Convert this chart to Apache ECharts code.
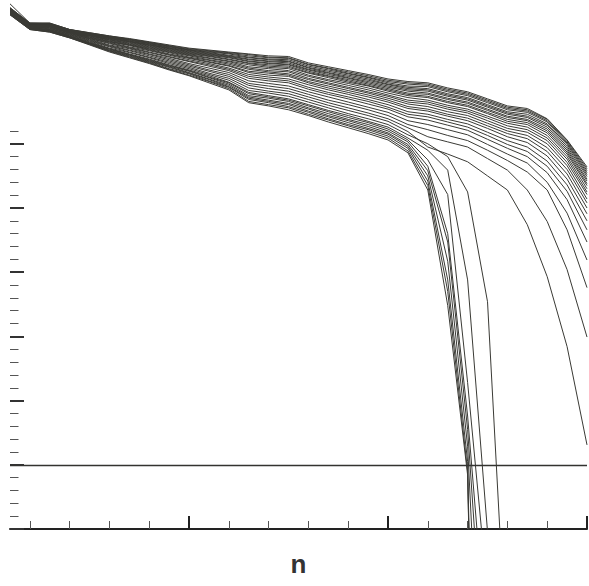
<!DOCTYPE html>
<html>
<head>
<meta charset="utf-8">
<script src="https://cdn.jsdelivr.net/npm/echarts@6/dist/echarts.min.js"></script>
<style>
html,body{margin:0;padding:0;background:#fff;}
#chart{width:589px;height:586px;}
</style>
</head>
<body>
<div id="chart"></div>
<script>
// n values
const nValues = [1,2,3,4,5,6,7,8,9,10,11,12,13,14,15,16,17,18,19,20,21,22,23,24,25,26,27,28,29,30];
// tick positions
const xMajorTicks = [10,20,30];
const xMinorTicks = [2,4,6,8,12,14,16,18,22,24,26,28];
const yMajorTicks = [-10,0,10,20,30,40,50];
const yMinorTicks = [-8,-6,-4,-2,2,4,6,8,12,14,16,18,22,24,26,28,32,34,36,38,42,44,46,48,52];
const refLine = 0;

// curves (bottom to top)
const steep1 = [70.1,67.8,67.4,66.5,65.4,64.3,63.4,62.5,61.5,60.6,59.5,58.4,56.4,55.9,55.3,54.4,53.4,52.5,51.6,50.6,48.6,42.8,24.8,-1.6,-150,null,null,null,null,null];
const steep2 = [70.1,67.8,67.4,66.5,65.5,64.4,63.5,62.6,61.6,60.7,59.7,58.6,56.6,56.1,55.6,54.6,53.7,52.8,51.9,50.9,48.9,43.5,27.0,-1.0,-150,null,null,null,null,null];
const steep3 = [70.2,67.9,67.5,66.6,65.5,64.5,63.6,62.7,61.7,60.9,59.8,58.8,56.9,56.4,55.8,54.9,53.9,53.0,52.2,51.2,49.3,44.2,28.8,0.5,-150,null,null,null,null,null];
const steep4 = [70.2,67.9,67.5,66.6,65.6,64.5,63.7,62.8,61.9,61.0,60.0,58.9,57.1,56.6,56.1,55.1,54.2,53.3,52.4,51.5,49.6,45.0,31.7,2.9,-60,null,null,null,null,null];
const steep5 = [70.2,67.9,67.6,66.7,65.6,64.6,63.8,62.9,62.0,61.1,60.1,59.1,57.3,56.8,56.3,55.4,54.4,53.6,52.7,51.7,49.9,45.8,34.7,5.5,-40,null,null,null,null,null];
const steep6 = [70.3,68.0,67.6,66.7,65.7,64.7,63.9,63.0,62.1,61.3,60.3,59.3,57.5,57.1,56.6,55.6,54.7,53.8,53.0,52.0,50.3,46.5,36.0,7.6,-30,null,null,null,null,null];
const steep7 = [70.3,68.0,67.7,66.7,65.7,64.8,63.9,63.1,62.2,61.4,60.4,59.5,57.8,57.3,56.8,55.9,55.0,54.1,53.3,52.3,50.6,47.5,42.1,12.8,-20,null,null,null,null,null];
const steep8 = [70.3,68.0,67.7,66.8,65.8,64.8,64.0,63.2,62.3,61.5,60.6,59.6,58.0,57.5,57.0,56.1,55.2,54.4,53.5,52.6,50.9,49.0,45.9,28.8,-10.4,-150,null,null,null,null];
const steep9 = [70.4,68.1,67.8,66.8,65.9,64.9,64.2,63.4,62.5,61.7,60.8,59.9,58.3,57.9,57.4,56.5,55.6,54.7,53.9,53.0,51.4,50.0,48.0,42.5,25.4,-32,null,null,null,null];
const curve01 = [70.4,68.1,67.8,66.9,66.0,65.1,64.3,63.5,62.7,61.9,61.0,60.2,58.7,58.2,57.8,56.9,56.0,55.2,54.4,53.5,51.9,49.5,48.4,47.2,45.0,42.8,37.4,29.3,18.4,3.1];
const curve02 = [70.5,68.2,67.9,67.0,66.1,65.2,64.5,63.7,62.9,62.1,61.3,60.5,59.1,58.6,58.2,57.3,56.4,55.6,54.8,53.9,52.5,51.1,50.3,49.5,47.7,45.9,42.8,37.9,30.4,19.9];
const curve03 = [70.5,68.2,68.0,67.0,66.2,65.3,64.6,63.9,63.1,62.3,61.5,60.8,59.4,59.0,58.6,57.7,56.8,56.1,55.3,54.4,53.0,52.2,51.3,50.5,49.0,47.4,45.6,42.8,36.6,27.6];
const curve04 = [70.6,68.3,68.0,67.1,66.3,65.4,64.8,64.0,63.3,62.5,61.8,61.1,59.8,59.4,59.0,58.1,57.3,56.5,55.7,54.9,53.6,53.0,52.2,51.4,49.9,48.4,47.0,44.0,39.2,31.9];
const curve05 = [70.7,68.3,68.1,67.2,66.4,65.6,64.9,64.2,63.5,62.8,62.1,61.4,60.2,59.8,59.5,58.5,57.7,57.0,56.2,55.4,54.2,53.7,52.9,52.1,50.7,49.3,48.0,45.5,41.3,34.7];
const curve06 = [70.7,68.3,68.2,67.2,66.4,65.7,65.0,64.3,63.6,62.9,62.3,61.6,60.5,60.1,59.8,58.8,58.0,57.3,56.6,55.7,54.6,54.2,53.4,52.6,51.3,49.9,48.8,46.5,42.6,36.6];
const curve07 = [70.7,68.4,68.2,67.3,66.5,65.8,65.1,64.5,63.8,63.1,62.5,61.8,60.8,60.4,60.1,59.2,58.4,57.7,56.9,56.1,55.0,54.6,53.8,53.1,51.8,50.5,49.5,47.3,43.6,38.0];
const curve08 = [70.8,68.4,68.3,67.3,66.6,65.9,65.3,64.6,63.9,63.3,62.7,62.1,61.1,60.7,60.5,59.5,58.7,58.0,57.3,56.5,55.5,55.1,54.3,53.6,52.4,51.1,50.2,48.1,44.5,39.1];
const curve09 = [70.8,68.5,68.3,67.4,66.6,65.9,65.4,64.7,64.0,63.4,62.8,62.2,61.3,61.0,60.7,59.7,59.0,58.3,57.6,56.8,55.8,55.4,54.6,54.0,52.8,51.6,50.8,48.8,45.3,40.0];
const curve10 = [70.8,68.5,68.4,67.4,66.7,66.0,65.4,64.8,64.2,63.5,63.0,62.4,61.6,61.2,60.9,60.0,59.3,58.6,57.9,57.1,56.2,55.8,55.0,54.4,53.2,52.0,51.3,49.4,46.0,40.8];
const curve11 = [70.9,68.5,68.4,67.4,66.8,66.1,65.5,64.9,64.3,63.7,63.1,62.6,61.8,61.4,61.2,60.2,59.5,58.8,58.1,57.4,56.5,56.2,55.4,54.8,53.6,52.4,51.8,50.0,46.6,41.4];
const curve12 = [70.9,68.5,68.4,67.5,66.8,66.2,65.6,65.0,64.4,63.8,63.3,62.8,62.0,61.7,61.4,60.5,59.8,59.1,58.4,57.6,56.8,56.5,55.7,55.1,54.0,52.8,52.2,50.5,47.1,42.1];
const curve13 = [70.9,68.6,68.5,67.5,66.9,66.2,65.7,65.1,64.5,63.9,63.4,62.9,62.3,61.9,61.7,60.7,60.0,59.4,58.7,57.9,57.2,56.8,56.0,55.4,54.3,53.2,52.6,50.9,47.6,42.5];
const curve14 = [71.0,68.6,68.5,67.5,66.9,66.3,65.8,65.2,64.6,64.0,63.6,63.1,62.5,62.1,61.9,61.0,60.3,59.6,59.0,58.2,57.5,57.2,56.4,55.8,54.7,53.5,53.0,51.3,48.0,43.0];
const curve15 = [71.0,68.6,68.6,67.6,67.0,66.4,65.9,65.3,64.7,64.1,63.7,63.2,62.6,62.3,62.1,61.1,60.5,59.8,59.1,58.4,57.7,57.4,56.6,56.0,54.9,53.8,53.3,51.7,48.4,43.5];
const curve16 = [71.0,68.6,68.6,67.6,67.0,66.4,65.9,65.4,64.8,64.2,63.8,63.4,62.8,62.5,62.3,61.3,60.6,60.0,59.3,58.6,57.9,57.7,56.9,56.3,55.2,54.1,53.6,52.0,48.7,43.8];
const curve17 = [71.0,68.7,68.6,67.6,67.0,66.5,66.0,65.4,64.9,64.3,63.9,63.5,62.9,62.6,62.4,61.5,60.8,60.2,59.5,58.8,58.2,57.9,57.1,56.5,55.4,54.3,53.8,52.3,49.0,44.2];
const curve18 = [71.1,68.7,68.6,67.6,67.1,66.5,66.0,65.5,64.9,64.4,64.0,63.6,63.1,62.8,62.6,61.6,61.0,60.3,59.7,59.0,58.4,58.2,57.4,56.8,55.7,54.6,54.1,52.6,49.3,44.5];
const curve19 = [71.1,68.7,68.7,67.7,67.1,66.6,66.1,65.6,65.0,64.5,64.1,63.7,63.2,62.9,62.8,61.8,61.1,60.5,59.9,59.2,58.6,58.4,57.6,57.0,55.9,54.8,54.3,52.9,49.6,44.9];
const curve20 = [71.1,68.7,68.7,67.7,67.2,66.6,66.2,65.6,65.1,64.6,64.2,63.8,63.4,63.1,62.9,61.9,61.3,60.7,60.1,59.3,58.8,58.6,57.8,57.2,56.1,55.0,54.6,53.1,49.9,45.2];
const curve21 = [71.1,68.7,68.7,67.7,67.2,66.7,66.2,65.7,65.2,64.6,64.3,64.0,63.5,63.2,63.1,62.1,61.5,60.9,60.3,59.5,59.0,58.9,58.1,57.5,56.4,55.3,54.9,53.4,50.1,45.5];
const curve22 = [71.2,68.8,68.7,67.8,67.2,66.7,66.3,65.8,65.2,64.7,64.4,64.1,63.7,63.4,63.3,62.3,61.7,61.0,60.4,59.7,59.3,59.1,58.3,57.7,56.6,55.5,55.1,53.6,50.3,45.8];
const curve23 = [71.2,68.8,68.8,67.8,67.3,66.8,66.3,65.8,65.3,64.8,64.5,64.2,63.9,63.5,63.4,62.4,61.8,61.2,60.6,59.9,59.5,59.3,58.5,57.9,56.8,55.7,55.3,53.8,50.5,46.1];
const curve24 = [71.8,68.8,68.8,67.8,67.3,66.8,66.4,65.9,65.4,64.9,64.6,64.3,64.0,63.7,63.6,62.6,62.0,61.4,60.8,60.1,59.7,59.5,58.7,58.1,57.0,55.9,55.5,53.9,50.6,46.4];

const allCurves = [steep1,steep2,steep3,steep4,steep5,steep6,steep7,steep8,steep9,
  curve01,curve02,curve03,curve04,curve05,curve06,curve07,curve08,curve09,curve10,curve11,curve12,
  curve13,curve14,curve15,curve16,curve17,curve18,curve19,curve20,curve21,curve22,curve23,curve24];

const chart = echarts.init(document.getElementById('chart'), null, {renderer: 'svg', width: 589, height: 586});

const series = allCurves.map(function (c, idx) {
  const s = {
    type: 'line',
    xAxisIndex: 0,
    yAxisIndex: 0,
    data: nValues.map(function (n, i) { return [n, c[i]]; }),
    showSymbol: false,
    symbol: 'none',
    connectNulls: false,
    clip: true,
    lineStyle: { color: '#3a3a35', width: 1 },
    emphasis: { disabled: true },
    silent: true,
    z: 2
  };
  if (idx === 0) {
    s.markLine = {
      silent: true,
      symbol: 'none',
      label: { show: false },
      lineStyle: { color: '#333330', width: 1.4, type: 'solid' },
      data: [{ yAxis: refLine }]
    };
  }
  return s;
});

const yMin = -10, yMax = 72.4;

chart.setOption({
  animation: false,
  backgroundColor: '#ffffff',
  grid: { left: 10, right: 2, top: 0, bottom: 57, containLabel: false },
  xAxis: [
    {
      type: 'value', min: 1, max: 30, position: 'bottom',
      name: 'n', nameLocation: 'middle', nameGap: 22,
      nameTextStyle: { fontFamily: 'Liberation Sans, Arial, sans-serif', fontSize: 26, fontWeight: 'bold', color: '#333333' },
      axisLine: { show: true, onZero: false, lineStyle: { color: '#222222', width: 2 } },
      axisTick: { show: true, inside: true, length: 13, customValues: xMajorTicks, lineStyle: { color: '#222222', width: 2 } },
      axisLabel: { show: false },
      splitLine: { show: false }
    },
    {
      type: 'value', min: 1, max: 30, position: 'bottom',
      axisLine: { show: false, onZero: false },
      axisTick: { show: true, inside: true, length: 8, customValues: xMinorTicks, lineStyle: { color: '#555555', width: 1 } },
      axisLabel: { show: false },
      splitLine: { show: false }
    }
  ],
  yAxis: [
    {
      type: 'value', min: yMin, max: yMax, position: 'left',
      axisLine: { show: false, onZero: false },
      axisTick: { show: true, inside: true, length: 14, customValues: yMajorTicks, lineStyle: { color: '#333333', width: 2 } },
      axisLabel: { show: false },
      splitLine: { show: false }
    },
    {
      type: 'value', min: yMin, max: yMax, position: 'left',
      axisLine: { show: false, onZero: false },
      axisTick: { show: true, inside: true, length: 8.5, customValues: yMinorTicks, lineStyle: { color: '#555555', width: 1 } },
      axisLabel: { show: false },
      splitLine: { show: false }
    }
  ],
  series: series
});
</script>
</body>
</html>
